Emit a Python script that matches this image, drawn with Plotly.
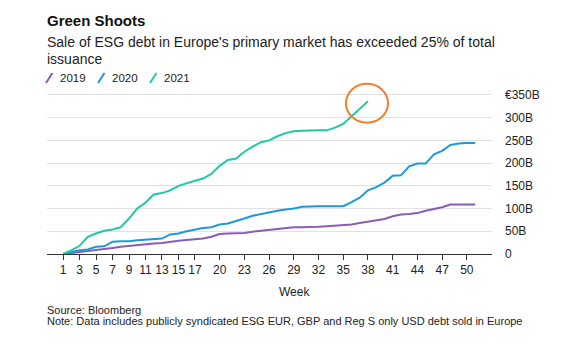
import plotly.graph_objects as go

weeks = list(range(1, 52))
v2019 = [0, 2, 4, 6, 9, 11, 13, 16, 18, 20, 22, 23, 24, 27, 29, 31, 32, 34, 38, 44,
         45, 45, 46, 49, 51, 54, 56, 58, 59, 59, 59, 60, 61, 62, 63, 65, 68, 71, 75, 77,
         83, 87, 88, 90, 95, 99, 103, 109, 109, 109, 109]
v2020 = [0, 4, 8, 10, 16, 17, 27, 28, 28, 30, 31, 32, 34, 43, 45, 50, 54, 57, 59, 65,
         67, 72, 78, 84, 88, 91, 95, 98, 100, 104, 105, 105, 105, 105, 105, 114, 124, 140, 147, 157,
         172, 173, 193, 199, 199, 219, 227, 240, 243, 244, 244]
v2021 = [0, 8, 18, 38, 45, 51, 54, 59, 78, 100, 113, 131, 134, 140, 150, 156, 161, 166, 176, 194,
         207, 210, 225, 236, 246, 250, 259, 266, 270, 271, 272, 272, 272, 278, 286, 302, 318, 336]

series_names = ["2019", "2020", "2021"]
series_vals = [v2019, v2020, v2021]
colors = ["#8a5cb8", "#1d9ad6", "#1ec9a5"]

xticks = [1, 3, 5, 7, 9, 11, 13, 15, 17, 20, 23, 26, 29, 32, 35, 38, 41, 44, 47, 50]
yticks = [0, 50, 100, 150, 200, 250, 300, 350]
yticktext = ["0", "50B", "100B", "150B", "200B", "250B", "300B", "€350B"]

W, H = 576, 345
YMAX = 385
PXU = 159.5 / 350  # pixels per unit
L, R, B = 47, 84, 90.5
PH = YMAX * PXU
T = H - B - PH
PW = W - L - R

def px(x):
    return (x - L) / PW

def py(y):
    return (H - B - y) / PH

FONT = "Liberation Sans, Arial, sans-serif"

fig = go.Figure()
for name, vals, col in zip(series_names, series_vals, colors):
    fig.add_trace(go.Scatter(x=weeks[:len(vals)], y=vals, mode="lines", name=name,
                             line=dict(color=col, width=2), showlegend=False,
                             hoverinfo="skip"))

annotations = [
    dict(text="<b>Green Shoots</b>", x=px(45), y=py(20), font=dict(size=15, color="#111")),
    dict(text="Sale of ESG debt in Europe's primary market has exceeded 25% of total",
         x=px(45), y=py(42), font=dict(size=14, color="#222")),
    dict(text="issuance", x=px(45), y=py(59), font=dict(size=14, color="#222")),
    dict(text="Week", x=px(294), y=py(293), xanchor="center", font=dict(size=12, color="#222")),
    dict(text="Source: Bloomberg", x=px(45), y=py(311), font=dict(size=11, color="#222")),
    dict(text="Note: Data includes publicly syndicated ESG EUR, GBP and Reg S only USD debt sold in Europe",
         x=px(45), y=py(322), font=dict(size=11, color="#222")),
]
shapes = []
leg_x = [46, 98, 150]
for i, (name, col) in enumerate(zip(series_names, colors)):
    x0 = leg_x[i]
    shapes.append(dict(type="line", xref="paper", yref="paper",
                       x0=px(x0), y0=py(83), x1=px(x0 + 6.5), y1=py(73),
                       line=dict(color=col, width=2)))
    annotations.append(dict(text=name, x=px(x0 + 12), y=py(78),
                            font=dict(size=11.5, color="#222")))

for a in annotations:
    a.setdefault("xanchor", "left")
    a["yanchor"] = "middle"
    a["xref"] = "paper"
    a["yref"] = "paper"
    a["showarrow"] = False
    a["font"]["family"] = FONT

# highlight circle around latest 2021 point
shapes.append(dict(type="circle", xref="x", yref="y",
                   xsizemode="pixel", ysizemode="pixel",
                   xanchor=weeks[len(v2021) - 1], yanchor=v2021[-1],
                   x0=-22, x1=20, y0=-21.5, y1=17.5,
                   line=dict(color="#f07f2c", width=2)))

fig.update_layout(
    width=W, height=H,
    margin=dict(l=L, r=R, t=T, b=B, pad=0),
    paper_bgcolor="white", plot_bgcolor="white",
    font=dict(family=FONT, size=12, color="#222"),
    annotations=annotations, shapes=shapes,
    xaxis=dict(range=[-0.95, 53.05], tickvals=xticks, ticks="outside", ticklen=5,
               tickcolor="#333", tickwidth=1, showline=True, linecolor="#333",
               linewidth=1, showgrid=False, zeroline=False,
               tickfont=dict(size=12, color="#222")),
    yaxis=dict(range=[0, YMAX], tickvals=yticks, ticktext=yticktext, side="right",
               showgrid=True, gridcolor="#e2e2e2", gridwidth=1, zeroline=False,
               ticks="", ticklabelstandoff=12, showline=False,
               tickfont=dict(size=12, color="#222")),
)

fig.write_html("out.html")
